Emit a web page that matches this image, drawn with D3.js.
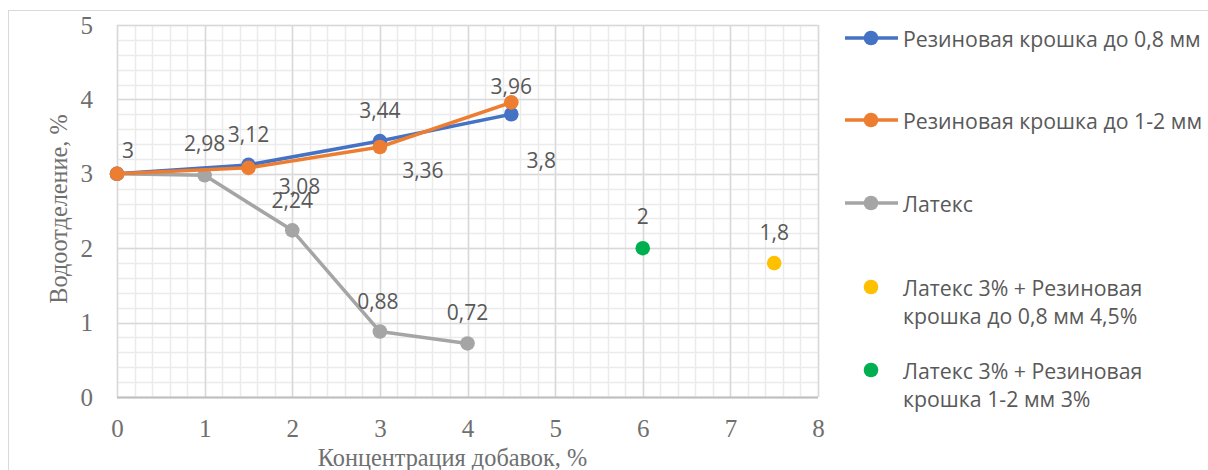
<!DOCTYPE html>
<html><head><meta charset="utf-8">
<script src="https://cdn.jsdelivr.net/npm/d3@7"></script>
<style>html,body{margin:0;padding:0;background:#fff;} svg{display:block;}</style>
</head><body>
<svg id="c" width="1208" height="470"></svg>
<script>
// ---- data ----
const seriesNames = ["Резиновая крошка до 0,8 мм","Резиновая крошка до 1-2 мм","Латекс","Латекс 3% + Резиновая крошка до 0,8 мм 4,5%","Латекс 3% + Резиновая крошка 1-2 мм 3%"];
const rubber08X = [0, 1.5, 3, 4.5];
const rubber08Y = [3, 3.12, 3.44, 3.8];
const rubber12X = [0, 1.5, 3, 4.5];
const rubber12Y = [3, 3.08, 3.36, 3.96];
const latexX = [0, 1, 2, 3, 4];
const latexY = [3, 2.98, 2.24, 0.88, 0.72];
const mix08X = [7.5];
const mix08Y = [1.8];
const mix12X = [6];
const mix12Y = [2];
const xTicks = [0,1,2,3,4,5,6,7,8];
const yTicks = [0,1,2,3,4,5];
const xTitle = "Концентрация добавок, %";
const yTitle = "Водоотделение, %";

// ---- style / layout ----
const colors = ["#4472C4","#ED7D31","#A5A5A5","#FFC000","#00B050"];
const fmt = v => String(v).replace(".", ",");
// label offsets (px) per series, per point: [dx, dy]; null = no label
const labelOffsets = [
  [[11,-24],[0,-31],[0,-31],[30,46]],
  [null,[51,18],[43,23],[0,-16]],
  [null,[0,-32],[0,-30],[-2,-31],[0,-31]],
  [[0,-31]],
  [[0,-32]]
];
const serif = "'Liberation Serif','Times New Roman',serif";
const sans = "'Open Sans',sans-serif";

const svg = d3.select("#c");
const x = d3.scaleLinear().domain([0,8]).range([117,818]);
const y = d3.scaleLinear().domain([0,5]).range([397,25]);

// outer frame
svg.append("rect").attr("x",8.5).attr("y",10.5).attr("width",1220).attr("height",480)
  .attr("fill","none").attr("stroke","#d9d9d9").attr("stroke-width",1);

// minor grid
const g = svg.append("g");
const minorX = d3.range(0, 8.0001, 0.2).map(v => +v.toFixed(1));
const minorY = d3.range(0, 5.0001, 0.2).map(v => +v.toFixed(1));
g.selectAll(".mx").data(minorX).join("line")
  .attr("x1",d=>Math.round(x(d))+0.5).attr("x2",d=>Math.round(x(d))+0.5)
  .attr("y1",y(5)).attr("y2",y(0)).attr("stroke","#ebebeb").attr("stroke-width",1.5);
g.selectAll(".my").data(minorY).join("line")
  .attr("y1",d=>Math.round(y(d))+0.5).attr("y2",d=>Math.round(y(d))+0.5)
  .attr("x1",x(0)).attr("x2",x(8)).attr("stroke","#ebebeb").attr("stroke-width",1.5);
// major grid
g.selectAll(".Mx").data(xTicks).join("line")
  .attr("x1",d=>Math.round(x(d))+0.5).attr("x2",d=>Math.round(x(d))+0.5)
  .attr("y1",y(5)).attr("y2",y(0)).attr("stroke","#d9d9d9").attr("stroke-width",1.5);
g.selectAll(".My").data(yTicks).join("line")
  .attr("y1",d=>Math.round(y(d))+0.5).attr("y2",d=>Math.round(y(d))+0.5)
  .attr("x1",x(0)).attr("x2",x(8)).attr("stroke","#d9d9d9").attr("stroke-width",1.5);
// bottom axis line
svg.append("line").attr("x1",x(0)).attr("x2",x(8)).attr("y1",y(0)+0.5).attr("y2",y(0)+0.5)
  .attr("stroke","#bfbfbf").attr("stroke-width",2);

// axes (tick labels)
const xAxis = svg.append("g").attr("transform",`translate(0,${y(0)})`)
  .call(d3.axisBottom(x).tickValues(xTicks).tickSize(0).tickPadding(22).tickFormat(d3.format("d")));
const yAxis = svg.append("g").attr("transform",`translate(${x(0)},0)`)
  .call(d3.axisLeft(y).tickValues(yTicks).tickSize(0).tickPadding(24).tickFormat(d3.format("d")));
[xAxis,yAxis].forEach(a=>{
  a.select(".domain").remove();
  a.attr("font-family",serif).attr("font-size",25);
  a.selectAll("text").attr("font-family",serif).attr("font-size",25).attr("fill","#6f6f6f");
});

// axis titles
svg.append("text").attr("x",(x(0)+x(8))/2 - 15).attr("y",466).attr("text-anchor","middle")
  .attr("font-family",serif).attr("font-size",24.3)
  .attr("fill","#6f6f6f").text(xTitle);
svg.append("text").attr("transform",`translate(67,${(y(0)+y(5))/2 - 2}) rotate(-90)`).attr("text-anchor","middle")
  .attr("font-family",serif).attr("font-size",24.3)
  .attr("fill","#6f6f6f").text(yTitle);

// series
const series = [
  {xs:rubber08X, ys:rubber08Y, line:true},
  {xs:rubber12X, ys:rubber12Y, line:true},
  {xs:latexX, ys:latexY, line:true},
  {xs:mix08X, ys:mix08Y, line:false},
  {xs:mix12X, ys:mix12Y, line:false}
];
const lineGen = d3.line().x(d=>x(d[0])).y(d=>y(d[1]));
const drawOrder = [2,0,1,3,4];
drawOrder.forEach(i=>{
  const s = series[i];
  const pts = s.xs.map((v,j)=>[v,s.ys[j]]);
  const sg = svg.append("g");
  if (s.line) sg.append("path").attr("d",lineGen(pts)).attr("fill","none")
    .attr("stroke",colors[i]).attr("stroke-width",3.5).attr("stroke-linejoin","round").attr("stroke-linecap","round");
  sg.selectAll("circle").data(pts).join("circle").attr("cx",d=>x(d[0])).attr("cy",d=>y(d[1]))
    .attr("r",7.3).attr("fill",colors[i]);
});
// labels
series.forEach((s,i)=>{
  s.xs.forEach((v,j)=>{
    const off = labelOffsets[i][j];
    if (!off) return;
    svg.append("text").attr("x",x(v)+off[0]).attr("y",y(s.ys[j])+off[1])
      .attr("text-anchor","middle").attr("dominant-baseline","central")
      .attr("font-family",sans).attr("font-size",21).attr("fill","#595959")
      .text(fmt(s.ys[j]));
  });
});

// legend
const legRows = [38,120,203,287,370];
const lg = svg.append("g");
seriesNames.forEach((name,i)=>{
  const cy = legRows[i];
  const item = lg.append("g");
  if (series[i].line) item.append("line").attr("x1",845).attr("x2",898).attr("y1",cy).attr("y2",cy)
    .attr("stroke",colors[i]).attr("stroke-width",3.5);
  item.append("circle").attr("cx",871).attr("cy",cy).attr("r",7.3).attr("fill",colors[i]);
  const t = item.append("text").attr("x",903).attr("y",cy).attr("dominant-baseline","central")
    .attr("font-family",sans).attr("font-size",21.3).attr("fill","#595959");
  if (i < 3) t.text(name);
  else {
    const parts = i===3 ? ["Латекс 3% + Резиновая","крошка до 0,8 мм 4,5%"] : ["Латекс 3% + Резиновая","крошка 1-2 мм 3%"];
    parts.forEach((p,k)=> t.append("tspan").attr("x",903).attr("dy",k===0?0:28).text(p));
  }
});
</script>
</body></html>
